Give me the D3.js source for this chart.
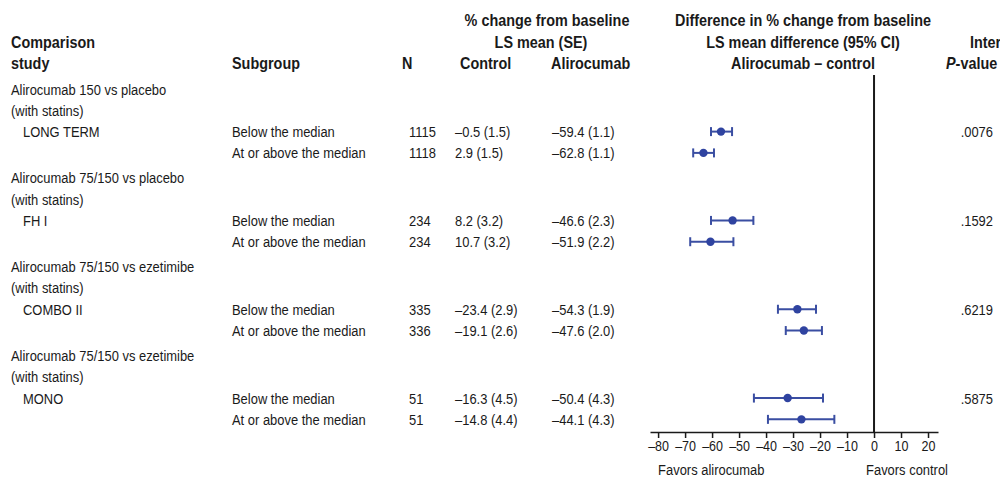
<!DOCTYPE html>
<html>
<head>
<meta charset="utf-8">
<script src="https://cdn.jsdelivr.net/npm/d3@7"></script>
<style>
  html, body { margin: 0; padding: 0; background: #fff; }
  svg { display: block; }
  text { font-family: "Liberation Sans", Arial, Helvetica, sans-serif; fill: #1a1a1a; }
  .hdr text { font-weight: bold; font-size: 16px; }
  .body text, text.body { font-size: 15.5px; }
  .tick text { font-size: 15px; }
</style>
</head>
<body>
<svg id="chart" width="1000" height="477"></svg>
<script>
// Study-level labels
const comparisons = [
  "Alirocumab 150 vs placebo",
  "Alirocumab 75/150 vs placebo",
  "Alirocumab 75/150 vs ezetimibe",
  "Alirocumab 75/150 vs ezetimibe"
];
const background = "(with statins)";
const studies = ["LONG TERM", "FH I", "COMBO II", "MONO"];
const pValues = [".0076", ".1592", ".6219", ".5875"];

// Subgroup rows (two per study)
const subgroups = ["Below the median", "At or above the median"];
const nValues = [1115, 1118, 234, 234, 335, 336, 51, 51];
const controlMean = [-0.5, 2.9, 8.2, 10.7, -23.4, -19.1, -16.3, -14.8];
const controlSE = [1.5, 1.5, 3.2, 3.2, 2.9, 2.6, 4.5, 4.4];
const aliroMean = [-59.4, -62.8, -46.6, -51.9, -54.3, -47.6, -50.4, -44.1];
const aliroSE = [1.1, 1.1, 2.3, 2.2, 1.9, 2.0, 4.3, 4.3];

// LS mean difference (alirocumab - control) with 95% CI
const diffMean = [-56.7, -63.2, -52.4, -60.6, -28.4, -26.0, -32.0, -26.9];
const diffLow = [-60.4, -67.0, -60.4, -68.1, -35.6, -32.7, -44.5, -39.3];
const diffHigh = [-52.6, -59.3, -44.7, -52.1, -21.5, -19.3, -18.9, -14.7];

const axisTicks = [-80, -70, -60, -50, -40, -30, -20, -10, 0, 10, 20];

const svg = d3.select("#chart");
const ink = "#1a1a1a";
const blue = "#3a4ea2";

const fmt = v => (v < 0 ? "\u2013" : "") + Math.abs(v).toFixed(1);
const minus = v => (v < 0 ? "\u2013" + Math.abs(v) : String(v));

// Condensed lettering: glyphs are squeezed horizontally around their anchor point
const bodySqueeze = 0.835;
const hdrSqueeze = 0.9;
function put(parent, t, xx, yy, sx, anchor) {
  return parent.append("text")
    .attr("transform", `translate(${xx},${yy}) scale(${sx},1)`)
    .attr("text-anchor", anchor || "start")
    .text(t);
}

// Vertical layout: each study block has 4 text lines
const linesPerBlock = 4.17;
const yLine = d3.scaleLinear().domain([0, 1]).range([89, 110.3]);
const yOf = (g, line) => yLine(g * linesPerBlock + line);
const base = 5.5; // text baseline offset from line centre

// Horizontal scale for the forest plot
const x = d3.scaleLinear().domain([-83, 23.7]).range([650, 938]);
const axisY = 432;

// Column positions
const col = { study: 11, indent: 23, sub: 232, n: 409, ctrl: 455, ali: 552, p: 993 };

// Header
const hdr = svg.append("g").attr("class", "hdr");
const H = (t, xx, yy, anchor) => put(hdr, t, xx, yy, hdrSqueeze, anchor);
H("Comparison", col.study, 48);
H("study", col.study, 69);
H("Subgroup", col.sub, 69);
H("N", 402, 69);
H("Control", 460, 69);
H("Alirocumab", 551, 69);
H("% change from baseline", 547, 26, "middle");
H("LS mean (SE)", 541, 48, "middle");
const diffCentre = 803;
H("Difference in % change from baseline", diffCentre, 26, "middle");
H("LS mean difference (95% CI)", diffCentre, 48, "middle");
H("Alirocumab \u2013 control", diffCentre, 69, "middle");
H("Interaction", 970, 48);
const pv = H("", 946, 69);
pv.append("tspan").attr("font-style", "italic").text("P");
pv.append("tspan").text("-value");

// Study block labels
const body = svg.append("g").attr("class", "body");
const B = (t, xx, yy, anchor) => put(body, t, xx, yy, bodySqueeze, anchor);
studies.forEach((s, g) => {
  B(comparisons[g], col.study, yOf(g, 0) + base);
  B(background, col.study, yOf(g, 1) + base);
  B(s, col.indent, yOf(g, 2) + base);
  B(pValues[g], col.p, yOf(g, 2) + base, "end");
});

// Subgroup rows
const rows = nValues.map((n, i) => ({
  g: Math.floor(i / 2), k: i % 2, n,
  cm: controlMean[i], cs: controlSE[i], am: aliroMean[i], as: aliroSE[i],
  d: diffMean[i], lo: diffLow[i], hi: diffHigh[i]
}));
rows.forEach(r => { r.y = yOf(r.g, 2 + r.k); });

rows.forEach(r => {
  const yy = r.y + base;
  B(subgroups[r.k], col.sub, yy);
  B(String(r.n), col.n, yy);
  B(`${fmt(r.cm)} (${r.cs.toFixed(1)})`, col.ctrl, yy);
  B(`${fmt(r.am)} (${r.as.toFixed(1)})`, col.ali, yy);
});

// Reference line at zero
svg.append("line")
  .attr("x1", x(0)).attr("x2", x(0))
  .attr("y1", 75).attr("y2", axisY)
  .attr("stroke", ink).attr("stroke-width", 2);

// Axis
const axis = d3.axisBottom(x)
  .tickValues(axisTicks)
  .tickFormat(minus)
  .tickSizeOuter(0)
  .tickSizeInner(6)
  .tickPadding(2);
const ax = svg.append("g").attr("transform", `translate(0,${axisY})`).call(axis);
ax.select(".domain").attr("stroke", ink).attr("stroke-width", 1.5);
ax.selectAll(".tick line").attr("stroke", ink).attr("stroke-width", 1.5);
ax.selectAll(".tick text")
  .attr("fill", ink)
  .attr("transform", `scale(${bodySqueeze},1)`);
ax.attr("font-family", null).attr("font-size", null);

const foot = svg.append("g").attr("class", "body");
put(foot, "Favors alirocumab", x(-80), 475, bodySqueeze);
put(foot, "Favors control", 948, 475, bodySqueeze, "end");

// Confidence intervals and point estimates
const ci = svg.append("g").attr("stroke", blue).attr("stroke-width", 2).attr("fill", "none");
const capH = 4.5;
rows.forEach(r => {
  ci.append("line").attr("x1", x(r.lo)).attr("x2", x(r.hi)).attr("y1", r.y).attr("y2", r.y);
  ci.append("line").attr("x1", x(r.lo)).attr("x2", x(r.lo)).attr("y1", r.y - capH).attr("y2", r.y + capH);
  ci.append("line").attr("x1", x(r.hi)).attr("x2", x(r.hi)).attr("y1", r.y - capH).attr("y2", r.y + capH);
});
svg.append("g").selectAll("circle").data(rows).join("circle")
  .attr("cx", d => x(d.d)).attr("cy", d => d.y).attr("r", 4.2)
  .attr("fill", "#2f43a0");
</script>
</body>
</html>
